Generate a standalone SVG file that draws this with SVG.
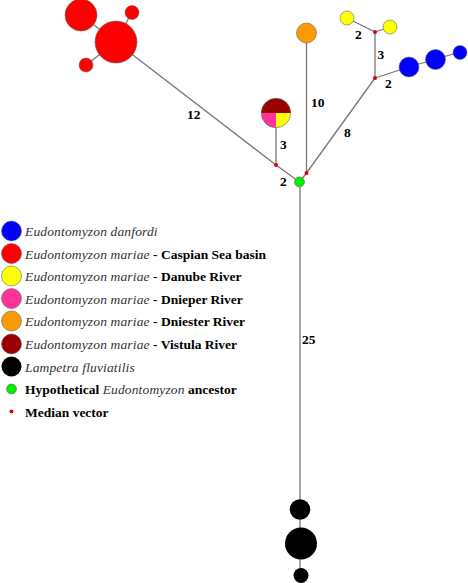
<svg xmlns="http://www.w3.org/2000/svg" width="468" height="583" viewBox="0 0 468 583">
<style>
.e{stroke:#777;stroke-width:1.3;fill:none}
.n{stroke:#666;stroke-width:0.6}
.lb{font-family:"Liberation Serif",serif;font-weight:bold;font-size:13.5px;fill:#000}
.lg{font-family:"Liberation Serif",serif;font-size:13.5px;fill:#000}
.it{font-style:italic;font-weight:normal;fill:#333;letter-spacing:0.15px}
.b{font-weight:bold}
.red{fill:#ff0000}.blue{fill:#0000ff}.yel{fill:#ffff00}.org{fill:#ff9900}.blk{fill:#000}.grn{fill:#00ee00}.mv{fill:#dd0000}
</style>
<rect width="468" height="583" fill="#fff"/>
<g id="connectors">
<line class="e" x1="81" y1="15" x2="116" y2="42"/>
<line class="e" x1="132" y1="12" x2="116" y2="42"/>
<line class="e" x1="86" y1="65" x2="116" y2="42"/>
<line class="e" x1="116" y1="42" x2="276" y2="165"/>
<line class="e" x1="276" y1="165" x2="299.5" y2="182"/>
<line class="e" x1="276" y1="113" x2="276" y2="165"/>
<line class="e" x1="306.5" y1="33" x2="306.5" y2="173"/>
<line class="e" x1="306.5" y1="173" x2="299.5" y2="182"/>
<line class="e" x1="306.5" y1="173" x2="375" y2="78"/>
<line class="e" x1="375" y1="78" x2="375" y2="32"/>
<line class="e" x1="375" y1="32" x2="347" y2="18"/>
<line class="e" x1="375" y1="32" x2="390" y2="27"/>
<line class="e" x1="375" y1="78" x2="409" y2="67"/>
<line class="e" x1="409" y1="67" x2="460" y2="52"/>
<line class="e" x1="300" y1="182" x2="300" y2="575"/>
</g>
<g id="labels">
<text class="lb" x="187" y="119">12</text>
<text class="lb" x="311" y="107">10</text>
<text class="lb" x="280" y="149">3</text>
<text class="lb" x="280" y="186">2</text>
<text class="lb" x="344" y="137">8</text>
<text class="lb" x="355" y="38.5">2</text>
<text class="lb" x="377.5" y="58.5">3</text>
<text class="lb" x="385" y="88">2</text>
<text class="lb" x="302" y="344">25</text>
</g>
<g id="caspian">
<circle class="n red" cx="116" cy="42" r="21"/>
<circle class="n red" cx="81" cy="15" r="16"/>
<circle class="n red" cx="132" cy="12.5" r="7"/>
<circle class="n red" cx="86" cy="65" r="7"/>
</g>
<g id="mixed">
<path d="M261.3,113 A14.7,14.7 0 0 1 290.7,113 Z" fill="#990000"/>
<path d="M276,113 L261.3,113 A14.7,14.7 0 0 0 276,127.7 Z" fill="#ff3399"/>
<path d="M276,113 L276,127.7 A14.7,14.7 0 0 0 290.7,113 Z" fill="#ffff00"/>
<circle class="n" cx="276" cy="113" r="14.7" fill="none"/>
</g>
<g id="dniester"><circle class="n org" cx="306.5" cy="33" r="10"/></g>
<g id="danube">
<circle class="n yel" cx="347" cy="18" r="7"/>
<circle class="n yel" cx="390" cy="27" r="7"/>
</g>
<g id="danfordi">
<circle class="n blue" cx="409" cy="67" r="10"/>
<circle class="n blue" cx="435.5" cy="59.5" r="10"/>
<circle class="n blue" cx="460" cy="52.5" r="7"/>
</g>
<g id="lampetra">
<circle class="blk" cx="300" cy="509.5" r="10.3"/>
<circle class="blk" cx="301" cy="543.5" r="16"/>
<circle class="blk" cx="301" cy="575.5" r="7.5"/>
</g>
<g id="ancestor"><circle class="n grn" cx="299.5" cy="182" r="5"/></g>
<g id="medians">
<circle class="mv" cx="276" cy="165" r="2"/>
<circle class="mv" cx="306.5" cy="173" r="2"/>
<circle class="mv" cx="375" cy="78" r="2"/>
<circle class="mv" cx="375" cy="32" r="2"/>
</g>
<g id="legend">
<circle class="n blue" cx="11.5" cy="231" r="10"/>
<circle class="n red" cx="11.5" cy="253.5" r="10"/>
<circle class="n yel" cx="11.5" cy="276" r="10"/>
<circle class="n" fill="#ff3399" cx="11.5" cy="298.5" r="10"/>
<circle class="n org" cx="11.5" cy="321" r="10"/>
<circle class="n" fill="#990000" cx="11.5" cy="344" r="10"/>
<circle class="blk" cx="11.5" cy="366.5" r="10"/>
<circle class="n grn" cx="11.5" cy="389" r="5"/>
<circle class="mv" cx="11.5" cy="411.5" r="2"/>
<text class="lg" x="25" y="236"><tspan class="it">Eudontomyzon danfordi</tspan></text>
<text class="lg" x="25" y="258.5"><tspan class="it">Eudontomyzon mariae</tspan><tspan class="b"> - Caspian Sea basin</tspan></text>
<text class="lg" x="25" y="281"><tspan class="it">Eudontomyzon mariae</tspan><tspan class="b"> - Danube River</tspan></text>
<text class="lg" x="25" y="303.5"><tspan class="it">Eudontomyzon mariae</tspan><tspan class="b"> - Dnieper River</tspan></text>
<text class="lg" x="25" y="326"><tspan class="it">Eudontomyzon mariae</tspan><tspan class="b"> - Dniester River</tspan></text>
<text class="lg" x="25" y="349"><tspan class="it">Eudontomyzon mariae</tspan><tspan class="b"> - Vistula River</tspan></text>
<text class="lg" x="25" y="371.5"><tspan class="it">Lampetra fluviatilis</tspan></text>
<text class="lg" x="25" y="394"><tspan class="b">Hypothetical </tspan><tspan class="it">Eudontomyzon</tspan><tspan class="b"> ancestor</tspan></text>
<text class="lg b" x="25" y="416.5">Median vector</text>
</g>
</svg>
